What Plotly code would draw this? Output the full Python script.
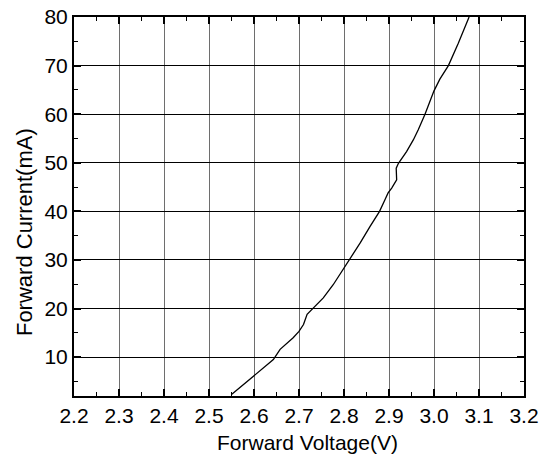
import plotly.graph_objects as go

voltage = [2.550, 2.598, 2.643, 2.658, 2.687, 2.700, 2.710, 2.718, 2.728, 2.754,
           2.776, 2.800, 2.812, 2.836, 2.858, 2.879, 2.891, 2.898, 2.906, 2.917,
           2.916, 2.921, 2.939, 2.954, 2.965, 2.980, 3.000, 3.013, 3.032, 3.054, 3.078]
current = [2.3, 6.1, 9.5, 11.6, 14.0, 15.3, 16.7, 18.8, 19.8, 22.2,
           24.9, 28.3, 30.0, 33.5, 36.9, 40.0, 42.4, 43.8, 44.8, 46.5,
           48.9, 49.9, 52.3, 54.7, 56.8, 60.0, 64.8, 67.2, 70.0, 74.6, 80.0]

x_ticks = [2.2, 2.3, 2.4, 2.5, 2.6, 2.7, 2.8, 2.9, 3.0, 3.1, 3.2]
x_tick_labels = ["2.2", "2.3", "2.4", "2.5", "2.6", "2.7", "2.8", "2.9", "3.0", "3.1", "3.2"]
y_ticks = [10, 20, 30, 40, 50, 60, 70, 80]
y_tick_labels = ["10", "20", "30", "40", "50", "60", "70", "80"]

x_title = "Forward Voltage(V)"
y_title = "Forward Current(mA)"

FONT = "Liberation Sans, Arial, sans-serif"

fig = go.Figure()
fig.add_trace(go.Scatter(x=voltage, y=current, mode="lines",
                         line=dict(color="black", width=1.3), showlegend=False))

fig.update_layout(
    width=548, height=459,
    margin=dict(l=74, r=24, t=17, b=63, autoexpand=False),
    paper_bgcolor="white", plot_bgcolor="white",
    font=dict(family=FONT, color="black", size=21),
    xaxis=dict(range=[2.2, 3.2], tickvals=x_ticks, ticktext=x_tick_labels,
               automargin=False,
               showgrid=True, gridcolor="#6e6e6e", gridwidth=1.4,
               showline=True, linecolor="black", linewidth=2, mirror="ticks",
               ticks="inside", ticklen=7, tickwidth=1.5, tickcolor="black",
               minor=dict(ticks="inside", ticklen=4, tickwidth=1.2, tickcolor="black",
                          dtick=0.05, tick0=2.2, showgrid=False),
               zeroline=False, tickfont=dict(size=21, family=FONT)),
    yaxis=dict(range=[2, 80], tickvals=y_ticks, ticktext=y_tick_labels,
               automargin=False,
               showgrid=True, gridcolor="black", gridwidth=1,
               showline=True, linecolor="black", linewidth=2, mirror="ticks",
               ticks="inside", ticklen=7, tickwidth=1.5, tickcolor="black",
               minor=dict(ticks="inside", ticklen=4, tickwidth=1.2, tickcolor="black",
                          dtick=5, tick0=0, showgrid=False),
               zeroline=False, tickfont=dict(size=21, family=FONT)),
    annotations=[
        dict(text=x_title, xref="paper", yref="paper", x=0.519, y=-0.123,
             xanchor="center", yanchor="middle", showarrow=False,
             font=dict(size=21, family=FONT)),
        dict(text=y_title, xref="paper", yref="paper", x=-0.111, y=0.4327,
             xanchor="center", yanchor="middle", textangle=-90, showarrow=False,
             font=dict(size=22, family=FONT)),
    ],
)

fig.write_html("out.html", config={"displayModeBar": False})

# remove the default page margin so the figure sits at the window's corner
with open("out.html", "r", encoding="utf-8") as f:
    html = f.read()
html = html.replace("<body>", '<body style="margin:0;padding:0;overflow:hidden">', 1)
with open("out.html", "w", encoding="utf-8") as f:
    f.write(html)
